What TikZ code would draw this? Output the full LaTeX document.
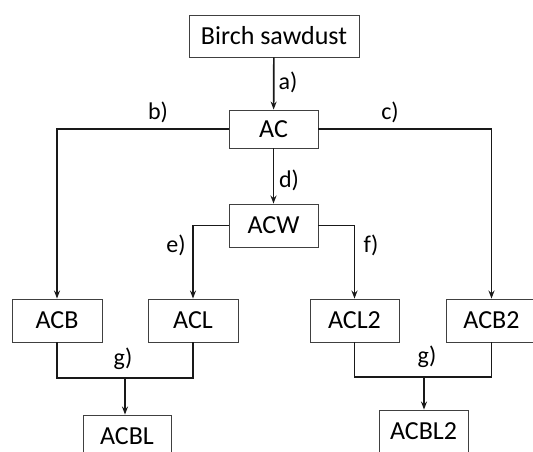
\documentclass[tikz,border=0pt]{standalone}
\usepackage{fontspec}
\setmainfont{Carlito}
\usetikzlibrary{arrows.meta}
\begin{document}
\begin{tikzpicture}[x=1pt,y=-1pt,
  box/.style={draw=black!75,line width=0.9pt,fill=white,inner sep=0pt,
    minimum width=89pt,minimum height=43pt,font=\fontsize{26}{30}\selectfont},
  link/.style={line width=1.7pt,draw=black!90},
  flow/.style={link,-{Stealth[length=8pt,width=6pt]}},
  lbl/.style={font=\fontsize{24}{28}\selectfont,inner sep=0pt}]
\useasboundingbox (0,0) rectangle (533,452);
\clip (0,0) rectangle (533,452);
% boxes
\node[box,minimum width=170pt,minimum height=42pt] (bs) at (274,36) {Birch sawdust};
\node[box,minimum height=38pt] (ac) at (273.5,129) {AC};
\node[box] (acw) at (273.5,225.5) {ACW};
\node[box,minimum width=90pt] (acb) at (57,320.5) {ACB};
\node[box,minimum width=90pt] (acl) at (193,320.5) {ACL};
\node[box] (acl2) at (354.5,320.5) {ACL2};
\node[box,minimum width=90pt] (acb2) at (491.5,320.5) {ACB2};
\node[box,minimum width=88pt] (acbl) at (127,436.5) {ACBL};
\node[box] (acbl2) at (423.5,431.5) {ACBL2};
% junctions
\coordinate (j1) at (125,378);
\coordinate (j2) at (424,377);
% connectors
\draw[flow] (bs) -- (ac);
\draw[flow] (ac.west) -| (acb.north);
\draw[flow] (ac.east) -| (acb2.north);
\draw[flow] (ac) -- (acw);
\draw[flow] (acw.west) -| (acl.north);
\draw[flow] (acw.east) -| (acl2.north);
\draw[link] (acb.south) |- (j1) -| (acl.south);
\draw[flow] (j1) -- (j1 |- acbl.north);
\draw[link] (acl2.south) |- (j2) -| (acb2.south);
\draw[flow] (j2) -- (j2 |- acbl2.north);
% labels
\node[lbl] (la) at (288,82) {a)};
\node[lbl] (lb) at (158,112) {b)};
\node[lbl] (lc) at (390,112) {c)};
\node[lbl] (ld) at (289,180) {d)};
\node[lbl] (le) at (176,245) {e)};
\node[lbl] (lf) at (371,245) {f)};
\node[lbl] (lg1) at (123,359) {g)};
\node[lbl] (lg2) at (427,357) {g)};
\end{tikzpicture}
\end{document}
